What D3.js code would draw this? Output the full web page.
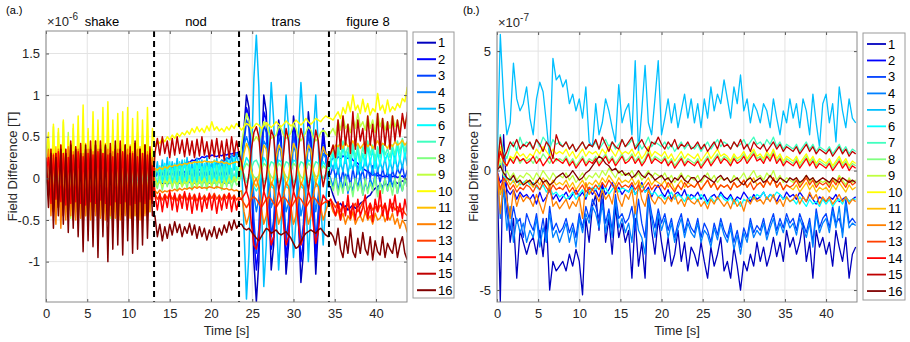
<!DOCTYPE html>
<html><head><meta charset="utf-8">
<script src="https://cdn.jsdelivr.net/npm/d3@7"></script>
<style>
body{margin:0;background:#fff}
text{font-family:"Liberation Sans",Arial,Helvetica,sans-serif;fill:#262626}
</style>
</head><body>
<svg id="c" width="910" height="342"></svg>
<script>
// ---------------- DATA ----------------
// Panel (a): units of 1e-8 T (0.01 x 1e-6). Segments: shake, nod, trans, figure 8
const segStartA = [0, 13.2, 23.7, 34.5];
const dtA = 0.3;
const regionTimes = [13.1, 23.4, 34.3];
const regionNames = ["shake", "nod", "trans", "figure 8"];
const a01 = [[0,-2,2,-3,1,-2,2,-3,1,-2,2,-3,1,-2,2,-3,1,-2,2,-3,1,-2,2,-3,1,-2,2,-3,1,-2,2,-3,1,-2,2,-3,1,-2,2,-3,1,-2,2,-2],
 [-3,-5,-4,-6,-5,-7,-5,-6,-4,-5,-6,-4,-5,-3,-4,-5,-3,-4,-2,-4,-3,-5,-4,-6,-5,-4,-3,-5,-4,-6,-5,-3,-2,0,2],
 [10,60,100,85,0,-100,-148,-100,20,100,80,-20,-110,-80,10,70,50,-40,-115,-80,10,75,50,-50,-125,-90,0,80,50,-40,-115,-60,20,60,30,-10],
 [-10,-20,-28,-32,-30,-35,-33,-38,-35,-32,-36,-34,-30,-28,-25,-22,-20,-15,-12,-10,-8,-10,-6,-8,-5,-7,-4,-6,-5,-3,-4,-6]];
const a02 = [[0,3,-1,3,0,4,-1,3,0,4,0,3,-1,4,0,3,1,4,0,5,1,4,0,5,1,4,0,3,1,4,0,5,1,4,0,3,1,4,0,3,1,4,0,3],
 [5,8,6,10,9,12,11,14,13,16,15,18,17,20,19,22,21,24,23,26,25,27,26,28,27,26,28,27,29,28,30,29,31,30,32],
 [15,50,85,75,10,-70,-110,-80,10,80,70,-10,-85,-70,5,60,45,-30,-95,-70,5,65,45,-40,-100,-75,0,70,45,-30,-95,-50,15,50,30,0],
 [20,25,22,26,24,27,25,24,26,22,20,18,15,12,10,8,6,4,5,3,4,2,3,2,4,2,3,1,2,3,0,-2]];
const a03 = [[0,-8,3,-9,2,-10,3,-8,2,-9,4,-10,2,-8,3,-9,2,-10,4,-8,3,-9,2,-10,3,-8,2,-9,4,-10,3,-8,2,-9,3,-10,2,-8,4,-9,3,-10,2,-5],
 [0,8,2,10,4,9,3,11,5,10,6,12,7,11,8,13,9,12,10,14,11,15,13,17,15,19,17,22,20,25,23,28,26,30,28],
 [10,40,70,60,10,-50,-90,-60,10,65,55,-5,-70,-50,5,50,40,-20,-75,-50,5,55,35,-30,-80,-55,0,55,35,-20,-75,-40,10,40,25,5],
 [5,15,0,12,-5,10,-8,8,-10,12,-5,15,0,10,-5,12,0,15,-2,10,-5,12,0,8,-5,10,0,12,5,15,0,10]];
const a04 = [[-5,5,-15,6,-14,5,-16,4,-15,6,-14,5,-16,6,-15,4,-14,5,-16,6,-15,5,-14,4,-16,6,-15,5,-14,6,-16,4,-15,5,-14,6,-16,5,-15,4,-14,6,-12,0],
 [0,8,-5,9,-6,8,-4,10,-5,8,-6,9,-4,10,-5,8,-6,9,-4,10,-5,8,-6,9,-4,10,-5,8,-6,9,-4,10,-2,12,5],
 [20,40,50,40,15,-20,-40,-25,10,45,40,5,-35,-25,5,40,30,-10,-40,-30,5,40,30,-15,-45,-30,5,40,30,-10,-40,-20,10,30,25,10],
 [0,-10,5,-15,0,-12,5,-18,-5,-15,0,-10,5,-20,-5,-15,0,-10,5,-18,-5,-12,0,-15,5,-10,0,-18,-5,-15,0,-10]];
const a05 = [[5,-12,15,-15,18,-14,16,-18,15,-16,18,-15,16,-18,15,-16,18,-15,16,-18,15,-16,18,-15,16,-18,15,-16,18,-15,16,-18,15,-16,18,-15,16,-18,15,-16,18,-15,16,-10],
 [0,20,-5,22,0,25,-2,20,2,24,0,22,-3,25,0,20,2,24,-2,22,0,25,2,20,0,24,-2,22,0,25,5,28,10,30,15],
 [20,-60,-145,-90,20,120,172,110,-20,-130,-80,40,115,70,-40,-110,-60,40,100,60,-30,-95,-50,50,115,70,-20,-100,-40,50,100,40,-30,-80,-30,10],
 [20,10,25,5,20,8,28,5,22,10,25,5,20,8,25,10,22,5,28,8,20,10,25,5,22,8,28,10,25,12,30,15]];
const a06 = [[0,15,-20,18,-22,16,-20,18,-22,15,-20,18,-22,16,-20,18,-22,15,-20,18,-22,16,-20,18,-22,15,-20,18,-22,16,-20,18,-22,15,-20,18,-22,16,-20,18,-22,15,-18,10],
 [5,-8,15,-5,18,-6,20,-8,18,-5,20,-6,22,-5,18,-8,20,-5,22,-6,18,-8,20,-5,22,-6,18,-5,20,-8,22,-5,25,0,20],
 [5,15,25,20,5,-10,-15,-10,10,25,20,5,-10,-12,8,22,20,5,-10,-12,8,22,20,5,-10,-12,8,22,20,5,-10,-8,8,20,15,10],
 [15,30,12,35,15,40,18,32,12,38,15,35,10,30,15,40,18,35,12,32,15,38,20,30,15,35,18,40,20,45,25,40]];
const a07 = [[8,-15,22,-20,25,-22,20,-25,22,-20,25,-22,20,-25,22,-20,25,-22,20,-25,22,-20,25,-22,20,-25,22,-20,25,-22,20,-25,22,-20,25,-22,20,-25,22,-20,25,-22,20,-10],
 [5,12,-5,14,-4,15,-6,12,-4,16,-5,14,-6,15,-4,12,-5,16,-6,14,-4,15,-5,12,-6,16,-4,14,-5,15,-6,12,-4,14,-2],
 [10,5,-5,0,12,20,22,15,5,-5,0,12,20,18,5,-5,0,12,20,18,5,-5,0,12,20,18,5,-5,0,12,20,18,5,0,5,10],
 [25,35,20,40,25,45,28,38,22,42,25,40,20,38,25,45,28,40,22,38,25,42,28,36,25,40,28,45,30,48,32,45]];
const a08 = [[10,30,-30,35,-32,28,-35,30,-30,32,-28,35,-32,30,-35,28,-30,32,-32,30,-28,35,-35,30,-30,28,-32,32,-30,30,-35,28,-30,35,-32,30,-28,32,-30,30,-32,28,-30,20],
 [-5,-12,2,-14,0,-10,3,-12,0,-14,2,-10,0,-12,3,-14,0,-10,2,-12,0,-14,3,-10,0,-12,2,-14,0,-10,3,-12,0,-8,-5],
 [5,12,18,15,8,2,0,3,10,18,15,8,2,0,10,18,15,8,2,0,10,18,15,8,2,0,10,18,15,8,2,3,10,15,12,10],
 [-5,-15,0,-20,-5,-18,2,-15,-5,-22,0,-15,-5,-20,0,-18,-5,-15,2,-22,-5,-18,0,-15,-5,-20,0,-18,5,-15,0,-10]];
const a09 = [[20,45,-30,62,-40,55,-45,68,-40,55,-48,60,-40,58,-45,50,-40,55,-45,52,-40,60,-45,55,-42,50,-48,58,-40,52,-45,55,-42,58,-40,50,-45,55,-40,52,-42,48,-40,35],
 [0,-8,-2,-10,-3,-6,-1,-9,-3,-7,-2,-10,-4,-6,-1,-8,-3,-10,-2,-6,0,-8,-3,-9,-1,-6,-2,-10,-3,-7,0,-5,2,-3,5],
 [40,60,78,70,55,45,50,45,55,68,65,55,48,50,52,62,60,52,48,50,55,65,60,50,45,50,55,62,58,50,45,48,55,58,55,50],
 [55,60,52,70,58,75,60,65,55,72,60,78,62,68,58,75,60,70,55,78,62,72,58,68,60,75,62,70,58,72,65,75]];
const a10 = [[30,55,-20,65,-30,60,-35,70,-30,50,-40,65,-35,75,-40,88,-45,60,-35,80,-40,70,-45,85,-40,92,-45,70,-40,78,-45,80,-40,85,-45,72,-40,80,-45,70,-40,85,-35,60],
 [38,45,42,48,44,50,46,52,48,54,50,55,52,57,53,60,55,62,56,60,55,63,57,68,58,62,57,60,56,62,58,64,60,66,62],
 [58,62,66,64,60,62,66,64,60,63,67,64,61,64,68,65,62,65,69,66,63,66,70,67,64,67,72,68,65,68,72,70,68,72,75,73],
 [72,70,75,80,72,85,78,92,80,100,82,88,78,95,80,90,76,84,80,102,82,88,78,94,80,86,82,90,85,96,92,110]];
const a11 = [[25,-15,35,-30,38,-35,40,-30,35,-38,42,-35,38,-32,40,-38,42,-35,38,-40,45,-35,40,-38,42,-35,38,-40,40,-35,42,-38,38,-35,40,-38,42,-35,38,-40,40,-30,35,-20],
 [12,10,13,11,14,12,15,14,16,15,17,16,18,17,19,18,20,19,20,19,21,20,20,19,21,20,19,20,18,19,17,18,19,20,18],
 [10,30,42,35,10,-5,-10,0,25,40,35,10,-8,0,25,40,35,10,-8,0,25,42,35,10,-8,0,25,40,35,10,-5,5,25,38,30,28],
 [30,35,40,38,42,36,44,38,40,45,38,42,36,40,44,38,42,36,40,45,38,42,40,36,42,38,44,40,42,46,40,44]];
const a12 = [[10,35,-45,30,-55,35,-60,30,-50,38,-45,32,-50,35,-48,30,-45,35,-50,32,-45,35,-48,30,-50,35,-45,32,-48,35,-50,30,-45,35,-48,32,-45,35,-50,30,-45,32,-40,25],
 [-15,-18,-14,-17,-15,-16,-14,-15,-13,-15,-12,-14,-12,-13,-11,-13,-10,-12,-10,-12,-11,-12,-10,-11,-12,-10,-11,-12,-13,-12,-14,-13,-15,-14,-16],
 [-15,-40,-55,-45,-20,-5,0,-10,-35,-55,-45,-20,-5,-10,-35,-55,-45,-20,-5,-10,-35,-55,-45,-20,-5,-10,-35,-55,-45,-20,-5,-10,-35,-50,-40,-30],
 [-30,-40,-45,-38,-50,-42,-55,-45,-50,-40,-55,-48,-45,-52,-40,-50,-45,-55,-42,-50,-48,-40,-52,-45,-50,-42,-55,-48,-60,-50,-55,-65]];
const a13 = [[15,-20,28,-25,30,-28,25,-30,28,-25,30,-28,25,-30,28,-25,30,-28,25,-30,28,-25,30,-28,25,-30,28,-25,30,-28,25,-30,28,-25,30,-28,25,-30,28,-25,30,-28,25,-15],
 [-18,-25,-20,-26,-19,-24,-18,-25,-20,-27,-19,-24,-18,-26,-20,-25,-19,-27,-21,-25,-20,-26,-19,-24,-18,-25,-20,-26,-19,-24,-18,-25,-20,-26,-22],
 [-25,-30,-35,-30,-25,-22,-25,-30,-35,-30,-25,-22,-25,-30,-35,-30,-25,-22,-25,-30,-35,-30,-25,-22,-25,-30,-35,-30,-25,-22,-25,-30,-33,-30,-28,-30],
 [-25,-30,-35,-28,-40,-32,-38,-30,-42,-35,-30,-40,-35,-28,-42,-36,-30,-38,-34,-40,-32,-36,-30,-42,-35,-30,-38,-34,-40,-36,-42,-45]];
const a14 = [[5,25,-30,28,-25,32,-28,30,-32,25,-30,28,-28,32,-30,26,-32,30,-28,28,-30,32,-26,30,-30,28,-32,26,-28,30,-30,32,-28,28,-32,30,-30,26,-28,30,-30,28,-25,15],
 [-20,-38,-18,-40,-20,-35,-15,-38,-18,-40,-20,-36,-16,-38,-18,-42,-20,-38,-18,-40,-22,-36,-18,-38,-20,-42,-22,-38,-20,-36,-18,-40,-22,-38,-25],
 [-25,-20,-15,-25,-55,-80,-85,-70,-35,-15,-25,-55,-80,-70,-35,-15,-25,-55,-80,-70,-35,-15,-25,-55,-80,-70,-35,-15,-25,-55,-78,-65,-35,-20,-25,-28],
 [-25,-35,-45,-30,-50,-28,-45,-20,-48,-30,-50,-25,-45,-35,-20,-48,-30,-52,-25,-40,-15,-45,-30,-50,-25,-40,-20,-45,-30,-48,-25,-40]];
const a15 = [[25,-20,35,-40,30,-35,40,-45,35,-40,45,-50,38,-45,42,-55,35,-48,45,-50,40,-55,45,-45,38,-52,42,-48,35,-55,45,-50,40,-45,38,-52,42,-48,35,-50,40,-45,38,-30],
 [30,48,28,50,30,45,25,48,28,50,30,46,26,48,28,45,25,47,27,50,28,44,24,46,26,48,25,45,22,47,25,50,28,45,30],
 [20,0,-15,5,35,55,62,50,15,-15,0,30,58,50,15,-15,0,30,60,45,10,-15,0,35,60,48,10,-15,5,35,58,45,10,-10,5,25],
 [30,40,25,70,35,75,40,65,30,80,35,70,45,60,30,75,40,65,35,78,30,72,40,68,35,75,45,70,50,78,60,80]];
const a16 = [[20,-35,30,-60,25,-45,35,-55,30,-65,40,-60,35,-70,30,-88,40,-75,35,-82,45,-95,35,-70,40,-100,30,-85,45,-80,35,-92,40,-75,30,-90,45,-85,35,-80,40,-72,30,-45],
 [-45,-70,-55,-75,-58,-72,-55,-68,-52,-65,-55,-70,-58,-66,-54,-68,-56,-72,-58,-70,-60,-74,-62,-70,-58,-72,-60,-68,-56,-65,-52,-62,-50,-60,-55],
 [-55,-60,-62,-60,-64,-68,-72,-75,-70,-65,-60,-62,-66,-64,-62,-66,-68,-66,-64,-68,-72,-78,-84,-82,-76,-70,-66,-64,-62,-64,-66,-62,-60,-64,-68,-70],
 [-65,-70,-80,-60,-85,-95,-70,-90,-60,-88,-95,-72,-90,-65,-85,-92,-70,-98,-75,-88,-92,-70,-95,-78,-85,-90,-72,-95,-80,-70,-90,-98]];

// Panel (b): units of 1e-8 T (0.1 x 1e-7), sampled every 0.4 s
const dtB = 0.4;
const b01 = [0,-55,15,-10,-30,-20,-45,-25,-30,-35, -30,-28,-35,-25,-36,-20,-50,-38,-42,-40, -38,-42,-35,-40,-33,-38,-52,-20,-30,-15, -10,-25,-5,-30,-20,-35,-15,-28,-22,-30, -25,-45,-20,-40,-30,-45,-10,-25,-35,-20, -30,-38,-28,-40,-35,-25,-38,-30,-42,-32, -35,-40,-30,-38,-45,-32,-40,-35,-28,-42, -38,-45,-32,-40,-50,-38,-42,-35,-40,-30, -38,-32,-40,-35,-28,-36,-30,-38,-25,-32, -28,-35,-30,-22,-38,-30,-45,-25,-32,-28, -35,-30,-40,-25,-32,-38,-28,-45,-35,-32];
const b02 = [0,-5,-3,-8,-10,-8,-12,-9,-11,-10, -12,-10,-14,-9,-13,-11,-8,-12,-10,-13, -11,-9,-12,-10,-8,-11,-9,-12,-7,-10, -8,-11,-6,-10,-8,-5,-9,-7,-10,-8, -9,-6,-10,-8,-5,-9,-7,-11,-8,-6, -9,-11,-8,-12,-10,-9,-11,-8,-12,-10, -11,-9,-12,-10,-13,-11,-10,-12,-9,-11, -12,-10,-13,-11,-12,-9,-11,-13,-10,-12, -11,-9,-12,-10,-11,-13,-10,-12,-9,-11, -10,-12,-9,-11,-13,-10,-12,-14,-11,-12, -13,-11,-12,-10,-13,-12,-11,-13,-12,-11];
const b03 = [0,-10,-5,-18,-25,-15,-22,-20,-28,-18, -22,-25,-18,-28,-20,-30,-15,-25,-22,-26, -24,-20,-26,-22,-28,-18,-24,-15,-20,-12, -15,-20,-12,-22,-16,-25,-10,-20,-18,-22, -20,-15,-25,-12,-22,-28,-10,-18,-24,-16, -22,-18,-25,-20,-28,-22,-18,-26,-20,-24, -26,-20,-28,-22,-25,-30,-22,-27,-20,-25, -28,-22,-30,-25,-32,-24,-28,-20,-26,-23, -25,-20,-27,-22,-18,-25,-20,-24,-18,-22, -20,-25,-18,-22,-26,-20,-30,-16,-24,-20, -18,-24,-15,-22,-20,-26,-12,-22,-20,-22];
const b04 = [2,-20,-8,-25,-15,-30,-20,-26,-22,-30, -25,-28,-20,-32,-24,-30,-18,-28,-25,-30, -26,-22,-30,-24,-32,-20,-26,-18,-22,-15, -18,-24,-14,-26,-18,-28,-12,-24,-20,-26, -22,-30,-15,-25,-28,-35,-12,-20,-28,-18, -25,-20,-28,-22,-30,-24,-20,-28,-22,-26, -28,-22,-30,-25,-27,-32,-24,-29,-22,-27, -30,-24,-33,-27,-35,-26,-30,-22,-28,-25, -27,-22,-29,-24,-20,-27,-22,-26,-20,-24, -22,-27,-20,-24,-28,-22,-32,-18,-26,-22, -20,-26,-17,-24,-15,-28,-14,-24,-22,-23];
const b05 = [0,57,30,15,20,45,30,25,28,35, 22,15,30,37,33,20,5,47,38,40, 35,38,28,32,25,30,22,35,12,10, 28,15,20,30,25,18,12,36,20,25, 28,15,46,8,25,44,20,15,30,46, 15,22,30,20,28,18,25,32,22,30, 20,28,18,30,22,35,25,32,28,38, 30,22,35,28,40,25,30,20,28,25, 20,28,25,18,30,22,15,25,20,30, 22,28,18,30,25,15,32,20,10,28, 32,20,28,12,35,25,18,30,22,20];
const b06 = [0,3,-2,-4,-3,-5,-4,-6,-5,-4, -6,-5,-7,-8,-6,-9,-7,-10,-9,-11, -10,-12,-11,-9,-12,-10,-8,-11,-9,-7, -8,-6,-9,-7,-10,-8,-6,-9,-7,-8, -9,-7,-10,-8,-6,-9,-8,-10,-9,-11, -10,-12,-11,-9,-12,-10,-11,-13,-10,-12, -11,-13,-10,-12,-14,-11,-13,-12,-10,-12, -13,-11,-14,-12,-15,-12,-13,-11,-12,-10, -11,-9,-12,-10,-11,-9,-10,-12,-11,-13, -12,-14,-11,-13,-15,-12,-14,-13,-15,-12, -14,-12,-15,-13,-12,-14,-11,-13,-12,-12];
const b07 = [0,15,8,5,10,12,8,14,10,12, 11,9,13,10,14,12,9,13,11,12, 10,12,9,11,8,10,12,9,11,10, 12,9,11,13,10,12,9,11,13,10, 11,13,10,12,9,11,14,10,12,11, 10,12,9,11,8,10,12,9,11,10, 9,11,8,10,12,9,11,13,10,12, 11,9,12,10,11,13,10,12,14,11, 12,10,13,11,14,10,12,9,11,10, 9,11,8,10,12,9,11,8,10,9, 8,10,7,9,11,8,10,7,9,8];
const b08 = [0,8,3,2,5,4,6,3,5,4, 5,3,6,4,7,5,3,6,4,5, 4,6,3,5,2,4,6,3,5,4, 6,3,5,7,4,6,3,5,7,4, 5,7,4,6,3,5,8,4,6,5, 4,6,3,5,2,4,6,3,5,4, 3,5,2,4,6,3,5,7,4,6, 5,3,6,4,5,7,4,6,8,5, 6,4,7,5,8,4,6,3,5,4, 3,5,2,4,6,3,5,2,4,3, 2,4,1,3,5,2,4,1,3,2];
const b09 = [0,5,-2,0,-3,-1,-4,-2,-3,-1, -2,-4,-1,-3,0,-2,-4,-1,-3,-2, -3,-1,-4,-2,-5,-3,-1,-4,-2,-3, -1,-3,0,-2,1,-1,-3,0,-2,-1, -2,0,-3,-1,-4,-2,0,-3,-1,-2, -3,-1,-4,-2,-5,-3,-1,-4,-2,-3, -4,-2,-5,-3,-1,-4,-2,-5,-3,-4, -3,-5,-2,-4,-3,-1,-4,-2,0,-3, -2,-4,-1,-3,0,-4,-2,-5,-3,-4, -5,-3,-6,-4,-2,-5,-3,-6,-4,-5, -4,-6,-3,-5,-2,-4,-6,-3,-5,-4];
const b10 = [0,10,4,2,6,5,8,6,7,5, 7,6,9,7,10,8,6,9,7,8, 7,9,6,8,5,7,9,6,8,7, 8,6,9,7,10,8,6,9,7,8, 7,9,6,8,5,7,10,6,8,7, 6,8,5,7,4,6,8,5,7,6, 5,7,4,6,8,5,7,9,6,7, 6,4,7,5,6,8,5,7,9,6, 7,5,8,6,9,5,7,4,6,5, 4,6,3,5,7,4,6,3,5,4, 3,5,2,4,6,3,5,2,4,3];
const b11 = [0,-10,-5,-3,-6,-4,-7,-5,-6,-4, -5,-7,-4,-6,-3,-5,-7,-4,-6,-5, -6,-4,-7,-5,-8,-6,-4,-7,-5,-6, -4,-6,-3,-5,-2,-4,-6,-3,-5,-4, -5,-3,-6,-4,-7,-5,-3,-6,-4,-5, -6,-4,-7,-5,-8,-6,-4,-7,-5,-6, -7,-5,-8,-6,-4,-7,-5,-8,-6,-7, -6,-8,-5,-7,-6,-4,-7,-5,-3,-6, -5,-7,-4,-6,-3,-7,-5,-8,-6,-7, -8,-6,-9,-7,-5,-8,-6,-9,-7,-8, -7,-9,-6,-8,-5,-7,-9,-6,-8,-7];
const b12 = [0,-18,-5,-12,-20,-8,-15,-10,-13,-11, -12,-15,-10,-14,-18,-12,-6,-15,-13,-16, -14,-12,-16,-13,-15,-11,-20,-5,-10,-8, -10,-13,-8,-12,-10,-14,-6,-12,-15,-10, -12,-8,-18,-5,-12,-15,-8,-12,-14,-11, -12,-14,-11,-13,-10,-14,-12,-15,-11,-13, -14,-12,-15,-13,-16,-12,-14,-11,-13,-15, -13,-16,-12,-15,-13,-17,-12,-14,-11,-13, -12,-14,-11,-13,-10,-14,-12,-15,-11,-13, -12,-10,-14,-11,-13,-9,-12,-10,-14,-11, -13,-11,-14,-12,-10,-13,-11,-14,-12,-13];
const b13 = [0,-8,-3,-5,-8,-6,-9,-7,-8,-6, -7,-9,-6,-8,-5,-7,-9,-6,-8,-7, -8,-6,-9,-7,-10,-8,-6,-9,-7,-8, -6,-8,-5,-7,-4,-6,-8,-5,-7,-6, -7,-5,-8,-6,-9,-7,-5,-8,-6,-7, -6,-8,-5,-7,-9,-6,-8,-5,-7,-6, -7,-5,-8,-6,-4,-7,-5,-8,-6,-7, -6,-8,-5,-7,-6,-4,-7,-5,-8,-6, -5,-7,-4,-6,-3,-7,-5,-8,-6,-7, -6,-4,-7,-5,-3,-6,-4,-7,-5,-6, -5,-7,-4,-6,-3,-5,-7,-4,-6,-5];
const b14 = [0,8,4,2,5,3,6,4,5,3, 4,6,3,5,2,4,6,3,5,4, 3,5,2,4,1,3,5,2,4,3, 5,2,4,6,3,5,2,4,6,3, 4,6,3,5,2,4,7,3,5,4, 3,5,2,4,1,3,5,2,4,3, 2,4,1,3,5,2,4,6,3,5, 4,2,5,3,4,6,3,5,7,4, 5,3,6,4,7,3,5,2,4,3, 2,4,1,3,5,2,4,1,3,2, 1,3,0,2,4,1,3,0,2,1];
const b15 = [0,14,5,8,12,10,13,9,11,10, 12,9,13,11,8,12,10,5,15,11, 10,12,9,11,8,10,12,9,11,10, 13,9,14,11,8,12,10,9,13,10, 12,14,9,11,13,10,8,12,11,14, 11,9,12,10,13,9,11,10,12,9, 10,12,9,11,8,10,12,9,13,10, 11,9,12,10,13,9,11,8,12,10, 9,11,8,10,12,9,11,8,10,9, 8,10,7,9,11,8,10,7,9,8, 7,9,6,8,10,7,9,6,8,7];
const b16 = [0,2,-1,-3,-4,-2,-5,-4,-6,-5, -4,-6,-5,-3,-5,-4,-6,-5,-3,-2, -1,-3,-2,0,-2,-4,-3,-1,0,2, 4,6,5,3,2,0,1,-1,0,-2, -1,-3,-2,0,-2,-3,-1,-2,-4,-3, -2,-4,-3,-5,-3,-4,-2,-4,-5,-3, -3,-5,-4,-2,-3,-4,-5,-3,-2,-4, -3,-5,-4,-3,-5,-6,-4,-3,-5,-4, -3,-5,-4,-2,-4,-5,-3,-4,-5,-3, -4,-3,-5,-4,-2,-4,-3,-5,-4,-3, -4,-5,-3,-4,-5,-3,-4,-5,-4,-5];

const seriesNames = ["1","2","3","4","5","6","7","8","9","10","11","12","13","14","15","16"];
const xTicks = [0,5,10,15,20,25,30,35,40];
const yTicksA = [-1,-0.5,0,0.5,1,1.5];
const yTicksB = [-5,0,5];
const jet = ["#0000bf","#0000ff","#0040ff","#0080ff","#00bfff","#00ffff","#40ffbf","#80ff80","#bfff40","#ffff00","#ffbf00","#ff8000","#ff4000","#ff0000","#bf0000","#800000"];

// ---------------- BUILD ----------------
const seriesA = [a01,a02,a03,a04,a05,a06,a07,a08,a09,a10,a11,a12,a13,a14,a15,a16].map(segs => {
  const pts = [];
  segs.forEach((seg, k) => seg.forEach((v, i) => pts.push([segStartA[k] + i * dtA, v * 0.01])));
  return pts;
});
const seriesB = [b01,b02,b03,b04,b05,b06,b07,b08,b09,b10,b11,b12,b13,b14,b15,b16].map(arr =>
  arr.map((v, i) => [i * dtB, v * 0.1]));

const svg = d3.select("#c");

function panel(cfg) {
  const {L, R, T, B} = cfg;
  const x = d3.scaleLinear().domain([0, 43.76]).range([L, R]);
  const y = d3.scaleLinear().domain(cfg.yDom).range([B, T]);
  const g = svg.append("g");
  const id = "clip" + cfg.key;
  svg.append("clipPath").attr("id", id).append("rect").attr("x", L).attr("y", T).attr("width", R - L).attr("height", B - T);

  // grid
  g.append("g").selectAll("line").data(xTicks).join("line")
    .attr("x1", d => x(d)).attr("x2", d => x(d)).attr("y1", T).attr("y2", B)
    .attr("stroke", "#e3e3e3").attr("stroke-width", 1);
  g.append("g").selectAll("line").data(cfg.yTicks).join("line")
    .attr("y1", d => y(d)).attr("y2", d => y(d)).attr("x1", L).attr("x2", R)
    .attr("stroke", "#e3e3e3").attr("stroke-width", 1);

  // lines
  const line = d3.line().x(d => x(d[0])).y(d => y(d[1]));
  const lg = g.append("g").attr("clip-path", `url(#${id})`);
  cfg.series.forEach((s, i) => {
    lg.append("path").attr("d", line(s)).attr("fill", "none")
      .attr("stroke", jet[i]).attr("stroke-width", cfg.lw).attr("stroke-linejoin", "round");
  });

  if (cfg.regions) {
    regionTimes.forEach(t => {
      g.append("line").attr("x1", x(t)).attr("x2", x(t)).attr("y1", T).attr("y2", B)
        .attr("stroke", "#000").attr("stroke-width", 2).attr("stroke-dasharray", "6,4");
    });
    const centers = [102, 196, 286, 368];
    regionNames.forEach((n, i) => {
      svg.append("text").attr("x", centers[i]).attr("y", 26).attr("text-anchor", "middle")
        .attr("font-size", 13).style("fill", "#000").text(n);
    });
  }

  // axes (ticks inward)
  const ax = (gen, tx, ty) => {
    const a = g.append("g").attr("transform", `translate(${tx},${ty})`).call(gen);
    a.select(".domain").remove();
    a.selectAll(".tick line").attr("stroke", "#555");
    a.selectAll("text").attr("font-size", 13).style("fill", "#262626")
      .attr("font-family", '"Liberation Sans",Arial,sans-serif');
    return a;
  };
  ax(d3.axisBottom(x).tickValues(xTicks).tickSizeInner(-3).tickSizeOuter(0).tickPadding(7).tickFormat(d3.format("d")), 0, B);
  ax(d3.axisTop(x).tickValues(xTicks).tickSizeInner(-3).tickSizeOuter(0).tickFormat(""), 0, T);
  ax(d3.axisLeft(y).tickValues(cfg.yTicks).tickSizeInner(-3).tickSizeOuter(0).tickPadding(6).tickFormat(d => String(d)), L, 0);
  ax(d3.axisRight(y).tickValues(cfg.yTicks).tickSizeInner(-3).tickSizeOuter(0).tickFormat(""), R, 0);

  g.append("rect").attr("x", L).attr("y", T).attr("width", R - L).attr("height", B - T)
    .attr("fill", "none").attr("stroke", "#8a8a8a").attr("stroke-width", 1);

  // exponent
  const ex = svg.append("text").attr("x", L + 1).attr("y", T - 5).attr("font-size", 13);
  ex.append("tspan").text("\u00d710");
  ex.append("tspan").attr("dy", -6).attr("font-size", 10).text(cfg.exp);

  // labels
  svg.append("text").attr("x", (L + R) / 2).attr("y", 335).attr("text-anchor", "middle")
    .attr("font-size", 13).text("Time [s]");
  svg.append("text").attr("transform", `translate(${cfg.yLabX},${(T + B) / 2}) rotate(-90)`)
    .attr("text-anchor", "middle").attr("font-size", 13).text("Field Difference [T]");
  svg.append("text").attr("x", cfg.tagX).attr("y", 14).attr("font-size", 11).style("fill", "#000").text(cfg.tag);

  // legend
  const lgX = cfg.legX, lgY = cfg.legY;
  svg.append("rect").attr("x", lgX).attr("y", lgY).attr("width", cfg.legW).attr("height", cfg.legH)
    .attr("fill", "#fff").attr("stroke", "#9a9a9a").attr("stroke-width", 1);
  seriesNames.forEach((n, i) => {
    const yy = cfg.leg0 + i * cfg.legStep;
    svg.append("line").attr("x1", lgX + 4).attr("x2", lgX + 23).attr("y1", yy).attr("y2", yy)
      .attr("stroke", jet[i]).attr("stroke-width", cfg.lw + 0.5);
    svg.append("text").attr("x", lgX + 25).attr("y", yy + 4.5).attr("font-size", 13).style("fill", "#000").text(n);
  });
}

panel({key: "A", L: 46, R: 407, T: 31, B: 302, yDom: [-1.485, 1.77], yTicks: yTicksA, series: seriesA,
  lw: 1.5, regions: true, exp: "-6", yLabX: 17, tag: "(a.)", tagX: 6,
  legX: 413, legY: 32, legW: 41, legH: 266, leg0: 42.7, legStep: 16.5});
panel({key: "B", L: 497, R: 857, T: 32, B: 302, yDom: [-5.5, 5.8], yTicks: yTicksB, series: seriesB,
  lw: 1.3, regions: false, exp: "-7", yLabX: 478, tag: "(b.)", tagX: 463,
  legX: 863, legY: 33, legW: 42, legH: 267, leg0: 44, legStep: 16.47});
</script>
</body></html>
